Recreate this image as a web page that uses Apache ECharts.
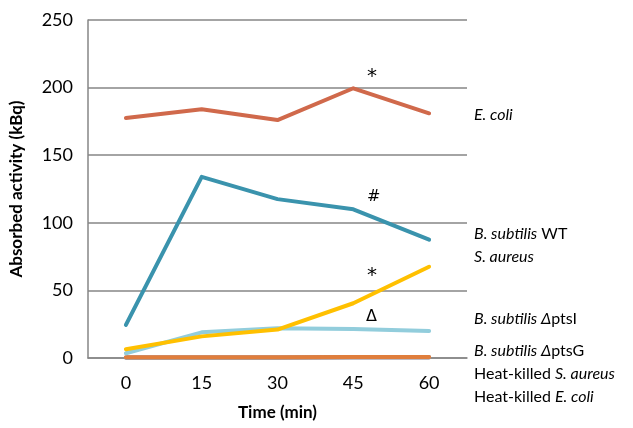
<!DOCTYPE html>
<html>
<head>
<meta charset="utf-8">
<script src="https://cdn.jsdelivr.net/npm/echarts@6/dist/echarts.min.js"></script>
<style>
  html, body { margin: 0; padding: 0; background: #fff; }
  #chart { width: 633px; height: 428px; }
</style>
</head>
<body>
<div id="chart"></div>
<script>
// time points (min)
var times = ["0", "15", "30", "45", "60"];
// absorbed activity (kBq)
var ecoli = [177.5, 184, 176, 199.5, 181];
var bsubWT = [24.5, 134, 117.5, 110, 87.5];
var saureus = [6.5, 16, 21, 40.5, 67.5];
var ptsI = [3.5, 19, 22, 21.5, 20];
var ptsG = [0.5, 0.5, 0.5, 0.8, 0.8];
var hkSaureus = [0.2, 0.2, 0.2, 0.3, 0.3];
var hkEcoli = [0.4, 0.4, 0.4, 0.6, 0.6];
var yTicks = { min: 0, max: 250, interval: 50 };

var font = "Lato, 'Open Sans', sans-serif";
var myChart = echarts.init(document.getElementById("chart"));

function mkLine(name, data, color, z) {
  return {
    name: name,
    type: "line",
    data: data,
    symbol: "none",
    z: z,
    lineStyle: { width: 4, color: color, cap: "round", join: "round" },
  };
}

// legend labels on the right side
function rightLabel(y, parts) {
  return {
    type: "text",
    left: 474,
    top: y - 10,
    style: {
      text: parts,
      font: "16px " + font,
      fill: "#000",
      rich: {
        i: { fontStyle: "italic", fontSize: 16, fontFamily: font, fill: "#000" },
        n: { fontSize: 16, fontFamily: font, fill: "#000" },
      },
    },
  };
}

// significance marks
function mark(x, y, txt, size) {
  return {
    type: "text",
    left: x,
    top: y,
    style: { text: txt, font: size + "px 'DejaVu Sans', sans-serif", fill: "#000" },
  };
}

var option = {
  animation: false,
  grid: { left: 88, right: 166, top: 20, bottom: 70 },
  xAxis: {
    type: "category",
    data: times,
    boundaryGap: true,
    name: "Time (min)",
    nameLocation: "middle",
    nameGap: 46,
    nameTextStyle: { fontFamily: font, fontWeight: "bold", fontSize: 17, color: "#000" },
    axisLine: { lineStyle: { color: "#868686", width: 1.5 } },
    axisTick: { show: false },
    axisLabel: { fontFamily: font, fontSize: 18, color: "#000", margin: 16 },
  },
  yAxis: {
    type: "value",
    min: yTicks.min,
    max: yTicks.max,
    interval: yTicks.interval,
    name: "Absorbed activity (kBq)",
    nameLocation: "middle",
    nameGap: 63,
    nameTextStyle: { fontFamily: font, fontWeight: "bold", fontSize: 17, color: "#000" },
    axisLine: { show: true, lineStyle: { color: "#868686", width: 1.5 } },
    axisTick: { show: false },
    axisLabel: { fontFamily: font, fontSize: 18, color: "#000", margin: 15 },
    splitLine: { lineStyle: { color: "#868686", width: 1.5 } },
  },
  series: [
    mkLine("Heat-killed E. coli", hkEcoli, "#7F6B9E", 1),
    mkLine("Heat-killed S. aureus", hkSaureus, "#9E9E9E", 2),
    mkLine("B. subtilis ΔptsG", ptsG, "#E07E3C", 3),
    mkLine("B. subtilis ΔptsI", ptsI, "#92CDDC", 4),
    mkLine("S. aureus", saureus, "#FFC000", 5),
    mkLine("B. subtilis WT", bsubWT, "#3A93AD", 6),
    mkLine("E. coli", ecoli, "#D0694B", 7),
  ],
  graphic: [
    rightLabel(117, "{i|E. coli}"),
    rightLabel(236, "{i|B. subtilis} {n|WT}"),
    rightLabel(259, "{i|S. aureus}"),
    rightLabel(321, "{i|B. subtilis Δ}{n|ptsI}"),
    rightLabel(353, "{i|B. subtilis Δ}{n|ptsG}"),
    rightLabel(376, "{n|Heat-killed }{i|S. aureus}"),
    rightLabel(399, "{n|Heat-killed }{i|E. coli}"),
    mark(367, 67, "*", 20),
    mark(367, 189, "#", 16),
    mark(367, 266, "*", 20),
    mark(366, 309, "Δ", 16),
  ],
};

myChart.setOption(option);
</script>
</body>
</html>
